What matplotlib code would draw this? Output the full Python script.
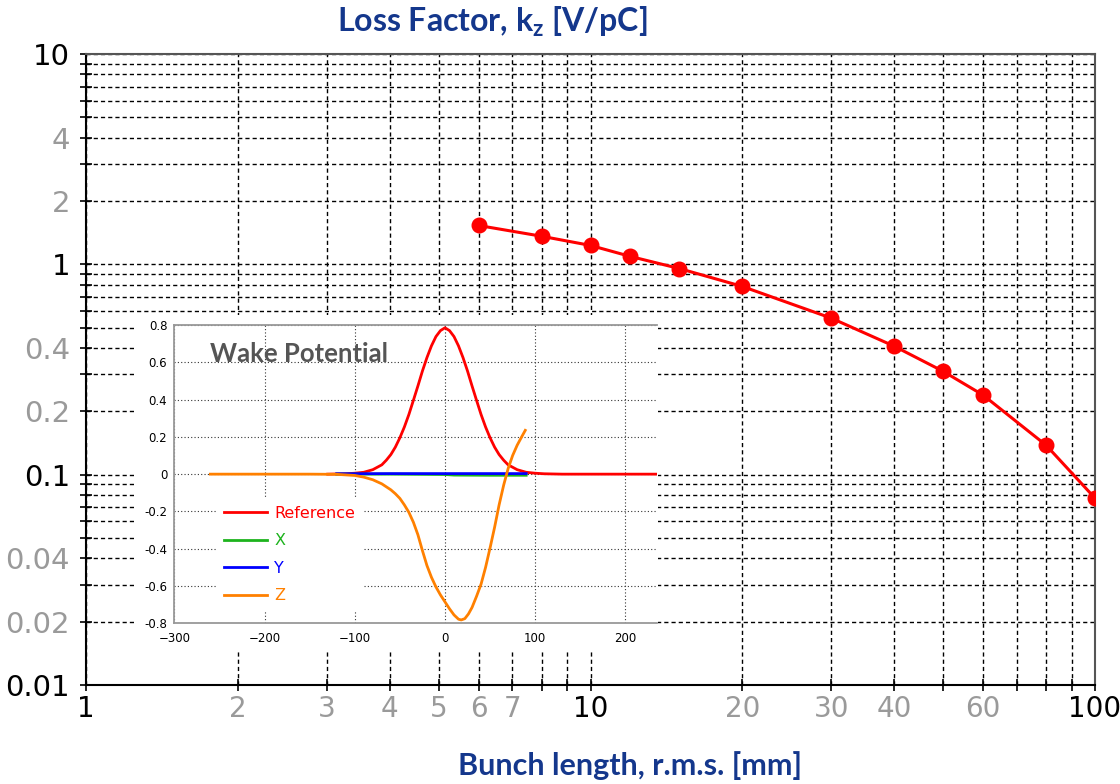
import matplotlib
matplotlib.use('Agg')
import matplotlib.pyplot as plt
from matplotlib.patches import Rectangle
from matplotlib.ticker import FixedLocator, FixedFormatter, NullLocator

# Datos de la curva principal (factor de perdida vs longitud del paquete)
bunch_mm = [6, 8, 10, 12, 15, 20, 30, 40, 50, 60, 80, 100]
loss_vpc = [1.53, 1.36, 1.23, 1.09, 0.955, 0.785, 0.555, 0.408, 0.31, 0.239, 0.138, 0.0773]

# Posiciones de las lineas de la rejilla y etiquetas
x_grid = [1, 2, 3, 4, 5, 6, 7, 8, 9, 10, 20, 30, 40, 50, 60, 70, 80, 90, 100]
x_lbls = ['1', '2', '3', '4', '5', '6', '7', '', '', '10', '20', '30', '40', '', '60', '', '', '', '100']
y_grid = [0.01, 0.02, 0.03, 0.04, 0.05, 0.06, 0.07, 0.08, 0.09,
          0.1, 0.2, 0.3, 0.4, 0.5, 0.6, 0.7, 0.8, 0.9,
          1, 2, 3, 4, 5, 6, 7, 8, 9, 10]
y_lbls = ['0.01', '0.02', '', '0.04', '', '', '', '', '',
          '0.1', '0.2', '', '0.4', '', '', '', '', '',
          '1', '2', '', '4', '', '', '', '', '', '10']
decadas = ['1', '10', '100', '0.01', '0.1']

# Datos del recuadro (potencial de estela)
ref_s = [-130, -110, -100, -90, -80, -70, -65, -60, -55, -50, -45, -40, -35, -30, -25,
         -20, -15, -10, -5, 0, 5, 10, 15, 20, 25, 30, 35, 40, 45, 50, 55, 60, 65, 70,
         80, 90, 100, 110, 130, 235]
ref_w = [0.0, 0.002, 0.005, 0.01, 0.024, 0.05, 0.075, 0.105, 0.145, 0.195, 0.253, 0.32,
         0.396, 0.473, 0.553, 0.625, 0.688, 0.738, 0.77, 0.785, 0.77, 0.738, 0.688, 0.625,
         0.553, 0.473, 0.396, 0.32, 0.253, 0.195, 0.145, 0.105, 0.075, 0.05,
         0.024, 0.01, 0.005, 0.002, 0.0, 0.0]
x_s = [-120, -60, 0, 10, 50, 90]
x_w = [0.0, 0.0, -0.002, -0.005, -0.006, -0.006]
y_s = [-120, -60, 0, 50, 90]
y_w = [0.002, 0.003, 0.003, 0.003, 0.003]
z_s = [-260, -150, -120, -100, -90, -80, -70, -60, -55, -50, -45, -40, -35, -30, -25,
       -20, -15, -10, -5, 0, 5, 10, 15, 18, 22, 26, 30, 35, 40, 45, 50, 55, 60, 65,
       70, 75, 80, 85, 89]
z_w = [0.0, 0.0, -0.001, -0.007, -0.016, -0.03, -0.052, -0.084, -0.105, -0.13, -0.165,
       -0.205, -0.258, -0.325, -0.41, -0.49, -0.553, -0.605, -0.648, -0.685, -0.722,
       -0.755, -0.778, -0.782, -0.775, -0.75, -0.715, -0.655, -0.59, -0.5, -0.395,
       -0.285, -0.165, -0.06, 0.03, 0.1, 0.155, 0.2, 0.235]
ins_xt = [-300, -200, -100, 0, 100, 200]
ins_yt = [-0.8, -0.6, -0.4, -0.2, 0, 0.2, 0.4, 0.6, 0.8]
ins_yl = ['-0.8', '-0.6', '-0.4', '-0.2', '0', '0.2', '0.4', '0.6', '0.8']

azul = '#14378C'
W, H = 1120., 784.

fig = plt.figure(figsize=(11.2, 7.84), dpi=100)

###############################################################################
# Grafica principal

ax = fig.add_axes([86 / W, 1 - 685 / H, 1009 / W, 631 / H])
ax.set_xscale('log')
ax.set_yscale('log')
ax.plot(bunch_mm, loss_vpc, color='red', lw=2.2, marker='o', ms=10.5, zorder=3)
ax.set_xlim(1, 100)
ax.set_ylim(0.01, 10)

ax.xaxis.set_major_locator(FixedLocator(x_grid))
ax.xaxis.set_major_formatter(FixedFormatter(x_lbls))
ax.xaxis.set_minor_locator(NullLocator())
ax.yaxis.set_major_locator(FixedLocator(y_grid))
ax.yaxis.set_major_formatter(FixedFormatter(y_lbls))
ax.yaxis.set_minor_locator(NullLocator())

ax.grid(True, color='black', ls=(0, (3, 2.2)), lw=1.0)
ax.tick_params(axis='both', direction='inout', length=9, width=1.2)
ax.tick_params(axis='y', pad=7, labelsize=21)
ax.tick_params(axis='x', pad=3, labelsize=20)

for t in ax.get_xticklabels() + ax.get_yticklabels():
    t.set_color('black' if t.get_text() in decadas else '#9a9a9a')

for s in ['left', 'bottom']:
    ax.spines[s].set_color('black')
    ax.spines[s].set_linewidth(1.5)
for s in ['top', 'right']:
    ax.spines[s].set_color('#555555')
    ax.spines[s].set_linewidth(1.5)

fig.text(492 / W, 1 - 22 / H, r'Loss Factor, k$_\mathregular{z}$ [V/pC]', ha='center',
         va='center', fontsize=23, fontweight='bold', color=azul, family='Lato')
fig.text(630 / W, 1 - 766 / H, 'Bunch length, r.m.s. [mm]', ha='center', va='center',
         fontsize=22, fontweight='bold', color=azul, family='Lato')

###############################################################################
# Recuadro con el potencial de estela

fondo = Rectangle((137 / W, 1 - 650 / H), 521 / W, 335 / H, transform=fig.transFigure,
                  facecolor='white', edgecolor='none', zorder=1)
fig.add_artist(fondo)

ins = fig.add_axes([174.3 / W, 1 - 623.3 / H, 482.7 / W, 298.3 / H])
ins.set_zorder(2)
ins.plot(ref_s, ref_w, color='#FF0000', lw=2, label='Reference')
ins.plot(x_s, x_w, color='#1DB31D', lw=2, label='X')
ins.plot(y_s, y_w, color='#0000FF', lw=2, label='Y')
ins.plot(z_s, z_w, color='#FF8000', lw=2, label='Z')
ins.set_xlim(-300, 235)
ins.set_ylim(-0.8, 0.8)
ins.set_xticks(ins_xt)
ins.set_yticks(ins_yt)
ins.set_yticklabels(ins_yl)
ins.grid(True, color='#333333', ls=(0, (1, 2)), lw=0.8)
ins.tick_params(length=0, labelsize=8.5)
ins.tick_params(axis='y', pad=5)
ins.tick_params(axis='x', pad=6)
for s in ['left', 'bottom', 'top']:
    ins.spines[s].set_color('#999999')
    ins.spines[s].set_linewidth(1.3)
ins.spines['right'].set_visible(False)

ins.text(-260, 0.6, 'Wake Potential', fontsize=18.5, fontweight='bold', color='#555555',
         family='Lato', va='baseline', ha='left')

leg = ins.legend(loc='upper left', bbox_to_anchor=(0.0864, 0.42), borderaxespad=0,
                 frameon=True, facecolor='white', edgecolor='none', framealpha=1,
                 fancybox=False, fontsize=11.5, handlelength=2.7, handletextpad=0.45,
                 labelspacing=0.78, labelcolor='linecolor', borderpad=0.5)

fig.savefig('out.png', dpi=100)
